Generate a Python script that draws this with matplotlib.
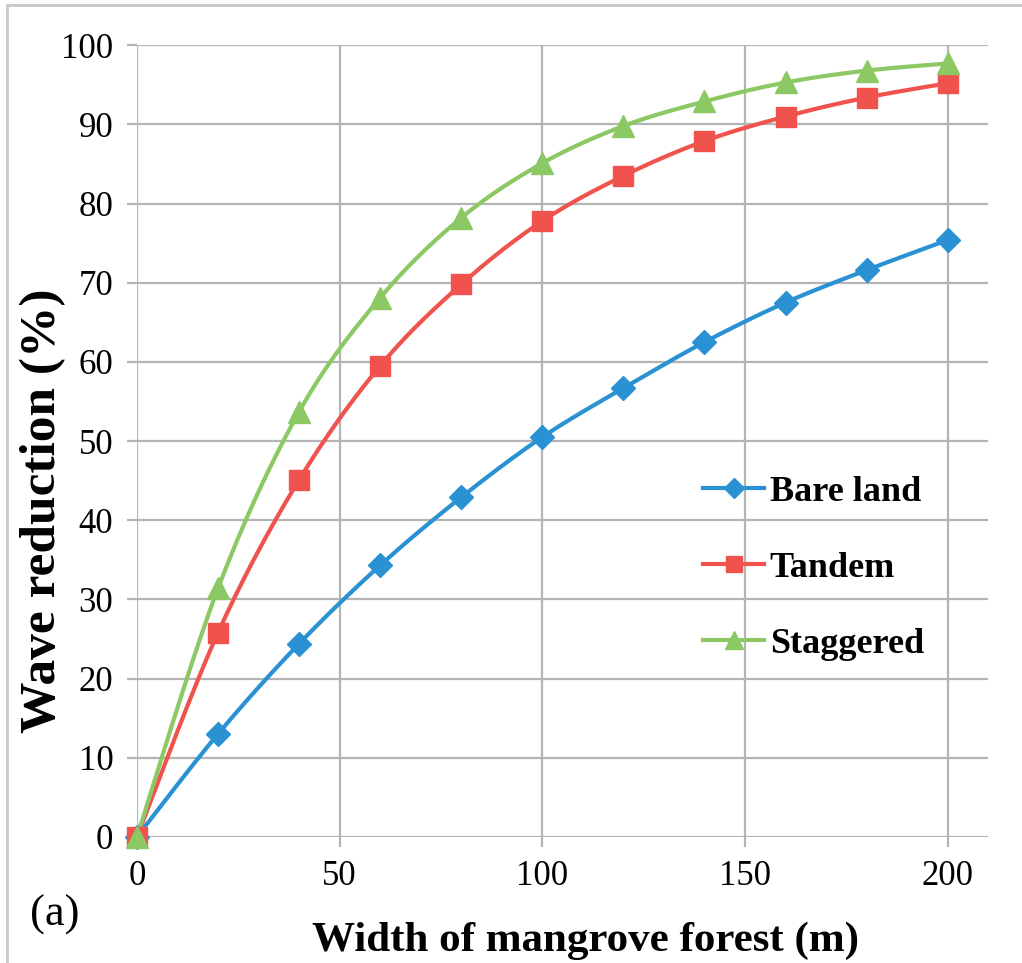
import numpy as np
import matplotlib
matplotlib.use("Agg")
import matplotlib.pyplot as plt
from matplotlib.patches import Rectangle

plt.rcParams['font.family'] = ['Liberation Serif', 'DejaVu Serif']

# data
width = [0, 20, 40, 60, 80, 100, 120, 140, 160, 180, 200]
bare_land = [0, 13.0, 24.4, 34.3, 42.9, 50.5, 56.7, 62.5, 67.5, 71.6, 75.4]
tandem = [0, 25.8, 45.1, 59.5, 69.8, 77.8, 83.5, 87.9, 91.0, 93.4, 95.2]
staggered = [0, 31.4, 53.7, 68.1, 78.2, 85.1, 89.8, 92.9, 95.3, 96.8, 97.7]
names = ["Bare land", "Tandem", "Staggered"]
x_ticks = [0, 50, 100, 150, 200]
y_ticks = [0, 10, 20, 30, 40, 50, 60, 70, 80, 90, 100]


# excel-like smoothed line (catmull-rom through bezier)
def smooth(x, y, n=30):
    P = np.column_stack([x, y]).astype(float)
    P = np.vstack([P[0], P, P[-1]])
    out = []
    t = np.linspace(0, 1, n)[:, None]
    for i in range(1, len(P) - 2):
        p0 = P[i]
        p3 = P[i + 1]
        c1 = p0 + (P[i + 1] - P[i - 1]) / 6.0
        c2 = p3 - (P[i + 2] - P[i]) / 6.0
        seg = (1 - t)**3*p0 + 3*(1 - t)**2*t*c1 + 3*(1 - t)*t**2*c2 + t**3*p3
        out.append(seg if i == 1 else seg[1:])
    out = np.vstack(out)
    return out[:, 0], out[:, 1]


fig = plt.figure(figsize=(10.22, 9.63), dpi=100)
ax = fig.add_axes([0.134, 0.131, 0.833, 0.822])

series = [bare_land, tandem, staggered]
colors = ['#2a92d2', '#f0524d', '#8cc864']
markers = ['D', 's', '^']
msizes = [12.5, 15, 16]

handles = []
for vals, c, m, ms, nm in zip(series, colors, markers, msizes, names):
    sx, sy = smooth(width, vals)
    ax.plot(sx, sy, color=c, lw=3, zorder=3, clip_on=False)
    ax.plot(width, vals, ls='none', marker=m, ms=ms, color=c, zorder=4,
            clip_on=False)
    h, = ax.plot([], [], color=c, lw=3, marker=m, ms=ms*0.8, label=nm)
    handles.append(h)

ax.set_xlim(0, 210)
ax.set_ylim(0, 100)
ax.set_xticks(x_ticks)
ax.set_yticks(y_ticks)
ax.grid(True, color='#b4b4b4', lw=1.6)
ax.set_axisbelow(True)
for s in ax.spines.values():
    s.set_visible(False)
ax.tick_params(axis='both', length=7, width=1.6, color='#b4b4b4',
               labelsize=25, pad=10)

ax.legend(handles=handles, loc='center left', bbox_to_anchor=(0.656, 0.41),
          bbox_transform=fig.transFigure, frameon=False, handlelength=1.7,
          handletextpad=0.15, labelspacing=1.18,
          prop={'weight': 'bold', 'size': 26})

fig.text(0.573, 0.023, "Width of mangrove forest (m)", ha='center',
         va='center', fontsize=31, fontweight='bold')
fig.text(0.042, 0.47, "Wave reduction (%)", ha='center', va='center',
         rotation=90, fontsize=37, fontweight='bold')
fig.text(0.029, 0.05, "(a)", ha='left', va='center', fontsize=32)

# thin frame around the picture
fig.patches.append(Rectangle((0.007, -0.05), 1.1, 1.045, transform=fig.transFigure,
                             fill=False, ec='#c8c8c8', lw=2))

fig.savefig("out.png", dpi=100)
